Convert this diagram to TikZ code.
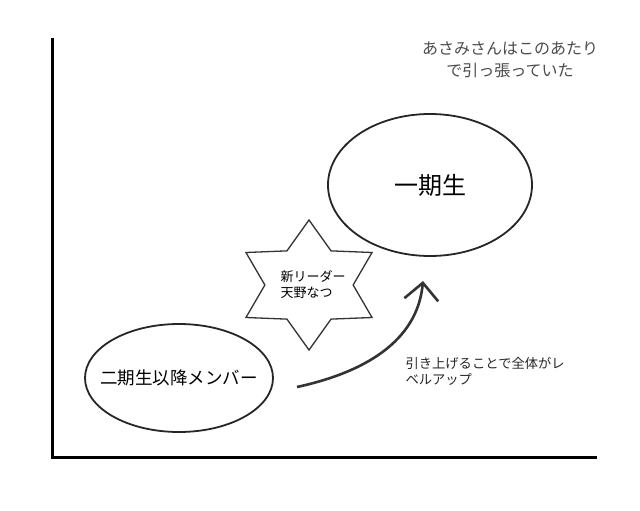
\documentclass[tikz,border=0pt]{standalone}
\usepackage{fontspec}
\newfontfamily\jp{Noto Sans CJK JP}
\usetikzlibrary{shapes.geometric,arrows.meta}
\begin{document}
\begin{tikzpicture}[x=1pt,y=-1pt]
        \useasboundingbox[fill=white] (0,0) rectangle (640,511);
        \coordinate (o) at (52,457);
        \coordinate (yend) at (52,40);
        \coordinate (xend) at (595,457);
        \coordinate (a) at (297,387);
        \coordinate (b) at (423,281);

        \node[draw=black!85, ellipse, line width=1.8pt, minimum width=204pt, minimum height=142pt, font=\jp\fontsize{24}{28}\selectfont] (gen1) at (430,185) {一期生};
        \node[draw=black!85, ellipse, line width=1.8pt, minimum width=188pt, minimum height=108pt, inner xsep=-14pt, inner ysep=0pt, font=\jp\fontsize{17.5}{20}\selectfont] (gen2) at (179,378) {二期生以降メンバー};
        \node[draw=black!80, star, star points=6, star point ratio=1.65, line width=1.3pt, minimum size=130pt, inner sep=0pt, xscale=1.12] (star) at (309,285) {};
        \node[font=\jp\fontsize{13}{16}\selectfont, align=left] (leader) at (313,285) {新リーダー\\天野なつ};
        \node[font=\jp\fontsize{16}{22}\selectfont, text=black!70, align=center] (note1) at (510,60) {あさみさんはこのあたり\\で引っ張っていた};
        \node[font=\jp\fontsize{13.3}{15.5}\selectfont, text=black!85, align=left, anchor=north west] (note2) at (402,354) {引き上げることで全体がレ\\ベルアップ};

        \path[draw,line width=3pt,line cap=rect] (yend) -- (o) -- (xend);
        \path[draw=black!80,line width=2.6pt,-{Straight Barb[length=17pt,width=34pt]}] (a) .. controls (375,370) and (418,335) .. (b);
    \end{tikzpicture}
\end{document}
